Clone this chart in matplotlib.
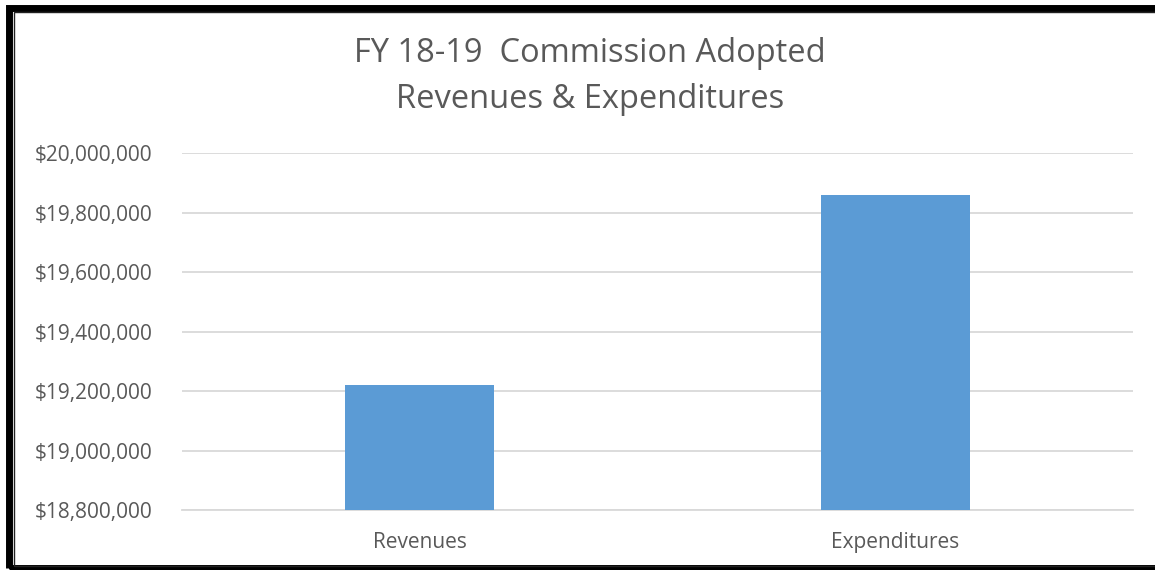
import matplotlib
matplotlib.use("Agg")
import matplotlib.pyplot as plt
from matplotlib.patches import Rectangle
from matplotlib.ticker import FuncFormatter, MultipleLocator

categories = ["Revenues", "Expenditures"]
amounts = [19220000, 19860000]

W, H = 1155, 570
GREY = "#595959"
BAR = "#5b9bd5"
GRID = "#d9d9d9"

fig = plt.figure(figsize=(W / 100, H / 100), dpi=100)
fig.patch.set_facecolor("white")


def fx(px):
    return px / W


def fy(py):
    return 1 - py / H


# plot area in pixel coords of the reference
left, right, top, bottom = 182, 1133, 153, 510
ax = fig.add_axes([fx(left), fy(bottom), fx(right - left), fy(top) - fy(bottom)])

x = range(len(categories))
ax.bar(x, amounts, width=0.313, color=BAR, zorder=3)
ax.set_xlim(-0.5, len(categories) - 0.5)
ax.set_ylim(18800000, 20000000)
ax.yaxis.set_major_locator(MultipleLocator(200000))
ax.yaxis.set_major_formatter(FuncFormatter(lambda v, p: f"${v:,.0f}"))
ax.set_xticks(list(x))
ax.set_xticklabels(categories)
ax.grid(axis="y", color=GRID, linewidth=1.3, zorder=0)
for s in ax.spines.values():
    s.set_visible(False)
ax.spines["bottom"].set_visible(True)
ax.spines["bottom"].set_color(GRID)
ax.spines["bottom"].set_linewidth(1.3)
ax.tick_params(axis="both", length=0, colors=GREY, labelsize=15)
ax.tick_params(axis="y", pad=21)
ax.tick_params(axis="x", pad=16)
for t in ax.get_xticklabels() + ax.get_yticklabels():
    t.set_fontfamily("Open Sans")

fig.text(fx(590), fy(53), "FY 18-19  Commission Adopted", ha="center", va="center",
         fontsize=23.5, color=GREY, fontfamily="Open Sans")
fig.text(fx(590), fy(99), "Revenues & Expenditures", ha="center", va="center",
         fontsize=23.5, color=GREY, fontfamily="Open Sans")

# double border frame (right edge is cut off in the original)
fig.add_artist(Rectangle((fx(9), fy(568)), fx(1200), fy(8) - fy(568),
                         transform=fig.transFigure, fill=False,
                         edgecolor="black", linewidth=5))
fig.add_artist(Rectangle((fx(13.5), fy(566)), fx(1200), fy(12) - fy(566),
                         transform=fig.transFigure, fill=False,
                         edgecolor="#222222", linewidth=1.0))

fig.savefig("out.png", dpi=100, facecolor="white")
